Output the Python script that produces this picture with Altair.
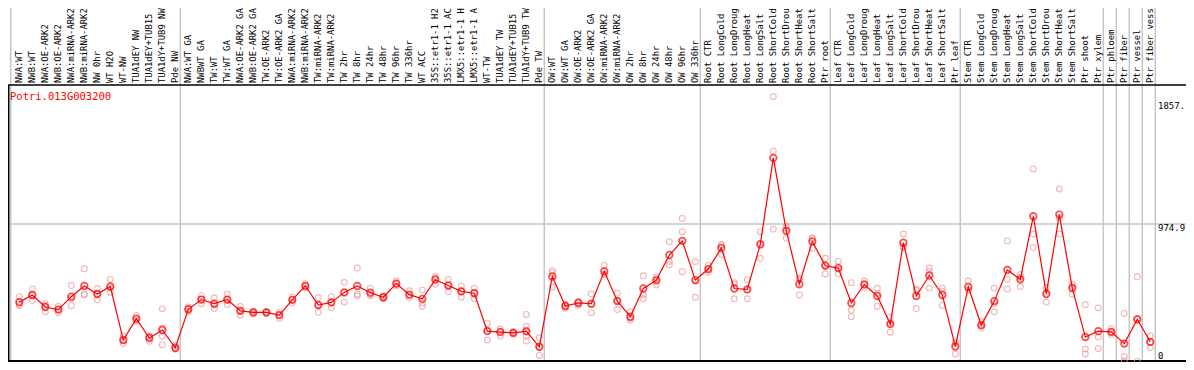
import altair as alt
import pandas as pd

gene_id = "Potri.013G003200"

group1 = ["NWA:WT", "NWB:WT", "NWA:OE-ARK2", "NWB:OE-ARK2", "NWA:miRNA-ARK2", "NWB:miRNA-ARK2",
          "NW 0hr", "WT H2O", "WT-NW", "TUA1dEY NW", "TUA1dEY+TUB15", "TUA1dY+TUB9 NW", "Pde NW"]
group2 = ["NWA:WT GA", "NWBWT GA", "TW:WT", "TW:WT GA", "NWA:OE-ARK2 GA", "NWB:OE-ARK2 GA",
          "TW:OE-ARK2", "TW:OE-ARK2 GA", "NWA:miRNA-ARK2", "NWB:miRNA-ARK2", "TW:miRNA-ARK2",
          "TW:miRNA-ARK2", "TW 2hr", "TW 8hr", "TW 24hr", "TW 48hr", "TW 96hr", "TW 336hr", "WT ACC",
          "35S::etr1-1 H2", "35S::etr1-1 AC", "LMX5::etr1-1 H", "LMX5::etr1-1 A", "WT-TW",
          "TUA1dEY TW", "TUA1dEY+TUB15", "TUA1dY+TUB9 TW", "Pde TW"]
group3 = ["OW:WT", "OW:WT GA", "OW:OE-ARK2", "OW:OE-ARK2 GA", "OW:miRNA-ARK2", "OW:miRNA-ARK2",
          "OW 2hr", "OW 8hr", "OW 24hr", "OW 48hr", "OW 96hr", "OW 336hr"]
group4 = ["Root CTR", "Root LongCold", "Root LongDroug", "Root LongHeat", "Root LongSalt",
          "Root ShortCold", "Root ShortDrou", "Root ShortHeat", "Root ShortSalt", "Ptr root"]
group5 = ["Leaf CTR", "Leaf LongCold", "Leaf LongDroug", "Leaf LongHeat", "Leaf LongSalt",
          "Leaf ShortCold", "Leaf ShortDrou", "Leaf ShortHeat", "Leaf ShortSalt", "Ptr leaf"]
group6 = ["Stem CTR", "Stem LongCold", "Stem LongDroug", "Stem LongHeat", "Stem LongSalt",
          "Stem ShortCold", "Stem ShortDrou", "Stem ShortHeat", "Stem ShortSalt", "Ptr shoot",
          "Ptr xylem"]
group7 = ["Ptr phloem"]
group8 = ["Ptr fiber"]
group9 = ["Ptr vessel"]
group10 = ["Ptr fiber vess"]
groups = [group1, group2, group3, group4, group5, group6, group7, group8, group9, group10]

means = [
    429, 479, 395, 377, 467, 542, 486, 538, 164, 314, 178, 234, 110,
    379, 447, 418, 447, 368, 357, 357, 338, 445, 542, 409, 427, 497, 542, 495, 463, 558, 481,
    452, 586, 545, 504, 491, 226, 219, 214, 226, 117,
    608, 402, 423, 418, 644, 436, 327, 524, 581, 758, 857, 583,
    660, 807, 524, 518, 832, 1437, 927, 554, 853, 683,
    667, 423, 552, 472, 275, 844, 472, 615, 479, 119,
    535, 268, 436, 654, 588, 1029, 486, 1041, 527, 185, 226,
    221, 139, 309, 151,
]

replicates = [
    [467, 406, 414], [520, 440, 477], [418, 361, 406], [399, 355, 377], [545, 404, 452],
    [662, 481, 483], [524, 445, 489], [588, 497, 529], [192, 139, 161], [336, 296, 310],
    [192, 155, 187], [382, 248, 192, 130], [126, 99, 105],
    [395, 363, 379], [474, 418, 449], [459, 384, 411], [486, 413, 442], [399, 338, 367],
    [367, 346, 357], [363, 350, 358], [316, 357, 341], [464, 424, 447], [558, 527, 541],
    [459, 359, 409], [467, 389, 425], [567, 429, 495], [667, 486, 473], [527, 474, 484],
    [474, 452, 463], [576, 542, 556], [508, 459, 476], [513, 423, 399], [608, 554, 596],
    [588, 501, 546], [542, 463, 507], [527, 452, 494], [282, 164, 232], [241, 192, 224],
    [224, 204, 214], [343, 260, 220, 192, 158], [180, 56, 115],
    [649, 633, 535], [414, 386, 402], [435, 406, 427], [486, 355, 413], [685, 622, 625],
    [491, 377, 440], [361, 304, 316], [613, 481, 452], [603, 549, 591], [851, 712, 690],
    [1014, 921, 642], [712, 463, 574],
    [685, 640, 656], [830, 762, 829], [565, 452, 556], [586, 452, 515], [921, 735, 841],
    [1865, 1484, 939], [961, 875, 945], [588, 479, 595], [875, 807, 877], [735, 626, 688],
    [715, 626, 660], [565, 372, 327], [576, 527, 553], [527, 399, 490], [323, 219, 283],
    [905, 814, 813], [520, 384, 512], [667, 644, 527], [527, 406, 504], [151, 67, 139],
    [576, 513, 516], [293, 248, 264], [527, 361, 420], [857, 588, 520], [622, 538, 603],
    [1360, 905, 810], [531, 429, 497], [1220, 1018, 905], [554, 486, 540], [411, 101, 67],
    [389, 185, 105],
    [243, 202, 218], [350, 49, 18], [606, 306, 15], [192, 112, 149],
]

axis_labels = ["0", "974.9", "1857."]
axis_values = [0, 974.9, 1857]

labels = [s for g in groups for s in g]
df_mean = pd.DataFrame({"idx": list(range(len(labels))), "label": labels, "mean": means})
df_reps = pd.DataFrame(
    [{"idx": i, "value": v} for i, reps in enumerate(replicates) for v in reps]
)
ends = []
pos = 0
for g in groups:
    pos += len(g)
    ends.append(pos - 1)
df_sep = pd.DataFrame({"x": [-0.66] + [e + 0.385 for e in ends]})
one = pd.DataFrame({"t": [gene_id]})

W, H = 1178, 354
xs = alt.Scale(domain=[-0.8692, 89.746], nice=False, zero=False)
ys = alt.Scale(domain=[10.5, 2484.5], nice=False, zero=False)
MONO = "DejaVu Sans Mono"
GRID = "#c6c6c6"

base = alt.Chart(df_mean)
single = alt.Chart(one)

seps = alt.Chart(df_sep).mark_rule(color=GRID, strokeWidth=1.5).encode(
    x=alt.X("x:Q", scale=xs, axis=None), y=alt.value(0), y2=alt.value(H)
)
hgrid = alt.Chart(pd.DataFrame({"v": [974.9]})).mark_rule(color=GRID, strokeWidth=1.5).encode(
    y=alt.Y("v:Q", scale=ys, axis=None), x=alt.value(0), x2=alt.value(W)
)
header_line = single.mark_rule(color="black", strokeWidth=1.5).encode(
    x=alt.value(0), x2=alt.value(W), y=alt.value(77)
)
bottom_line = single.mark_rule(color="black", strokeWidth=2).encode(
    x=alt.value(0), x2=alt.value(W), y=alt.value(353)
)
left_line = single.mark_rule(color="black", strokeWidth=1.5).encode(
    x=alt.value(0.75), y=alt.value(77), y2=alt.value(H)
)

reps = alt.Chart(df_reps).mark_point(
    shape="circle", filled=False, size=34, strokeWidth=1.1, color="#ee9898"
).encode(x=alt.X("idx:Q", scale=xs, axis=None), y=alt.Y("value:Q", scale=ys, axis=None))

line = base.mark_line(color="#ff0000", strokeWidth=1.2).encode(
    x=alt.X("idx:Q", scale=xs, axis=None), y=alt.Y("mean:Q", scale=ys, axis=None)
)
pts = base.mark_point(
    shape="circle", filled=False, size=44, strokeWidth=1.7, color="#ff0000"
).encode(x=alt.X("idx:Q", scale=xs, axis=None), y=alt.Y("mean:Q", scale=ys, axis=None))

head_text = base.mark_text(
    angle=270, align="left", baseline="middle", font=MONO, fontSize=8.9, color="black"
).encode(x=alt.X("idx:Q", scale=xs, axis=None), y=alt.value(75), text="label:N")

title = single.mark_text(
    align="left", baseline="middle", font=MONO, fontSize=10.5, color="#ff0000"
).encode(x=alt.value(2), y=alt.value(89), text="t:N")

df_ax = pd.DataFrame({"lab": axis_labels, "v": axis_values})
ax_layers = []
for lab, dy in zip(axis_labels, [-8, 4, 8.5]):
    ax_layers.append(
        alt.Chart(df_ax[df_ax["lab"] == lab]).mark_text(
            align="left", baseline="middle", font=MONO, fontSize=9, color="black", dy=dy
        ).encode(x=alt.value(1150), y=alt.Y("v:Q", scale=ys, axis=None), text="lab:N")
    )

chart = alt.layer(
    seps, hgrid, header_line, bottom_line, left_line, reps, line, pts, head_text, title, *ax_layers
).properties(
    width=W, height=H, autosize=alt.AutoSizeParams(type="none"), padding=0,
    background="white"
).configure_view(stroke=None)

chart.save("out.html", embed_options={"renderer": "svg", "actions": False})
